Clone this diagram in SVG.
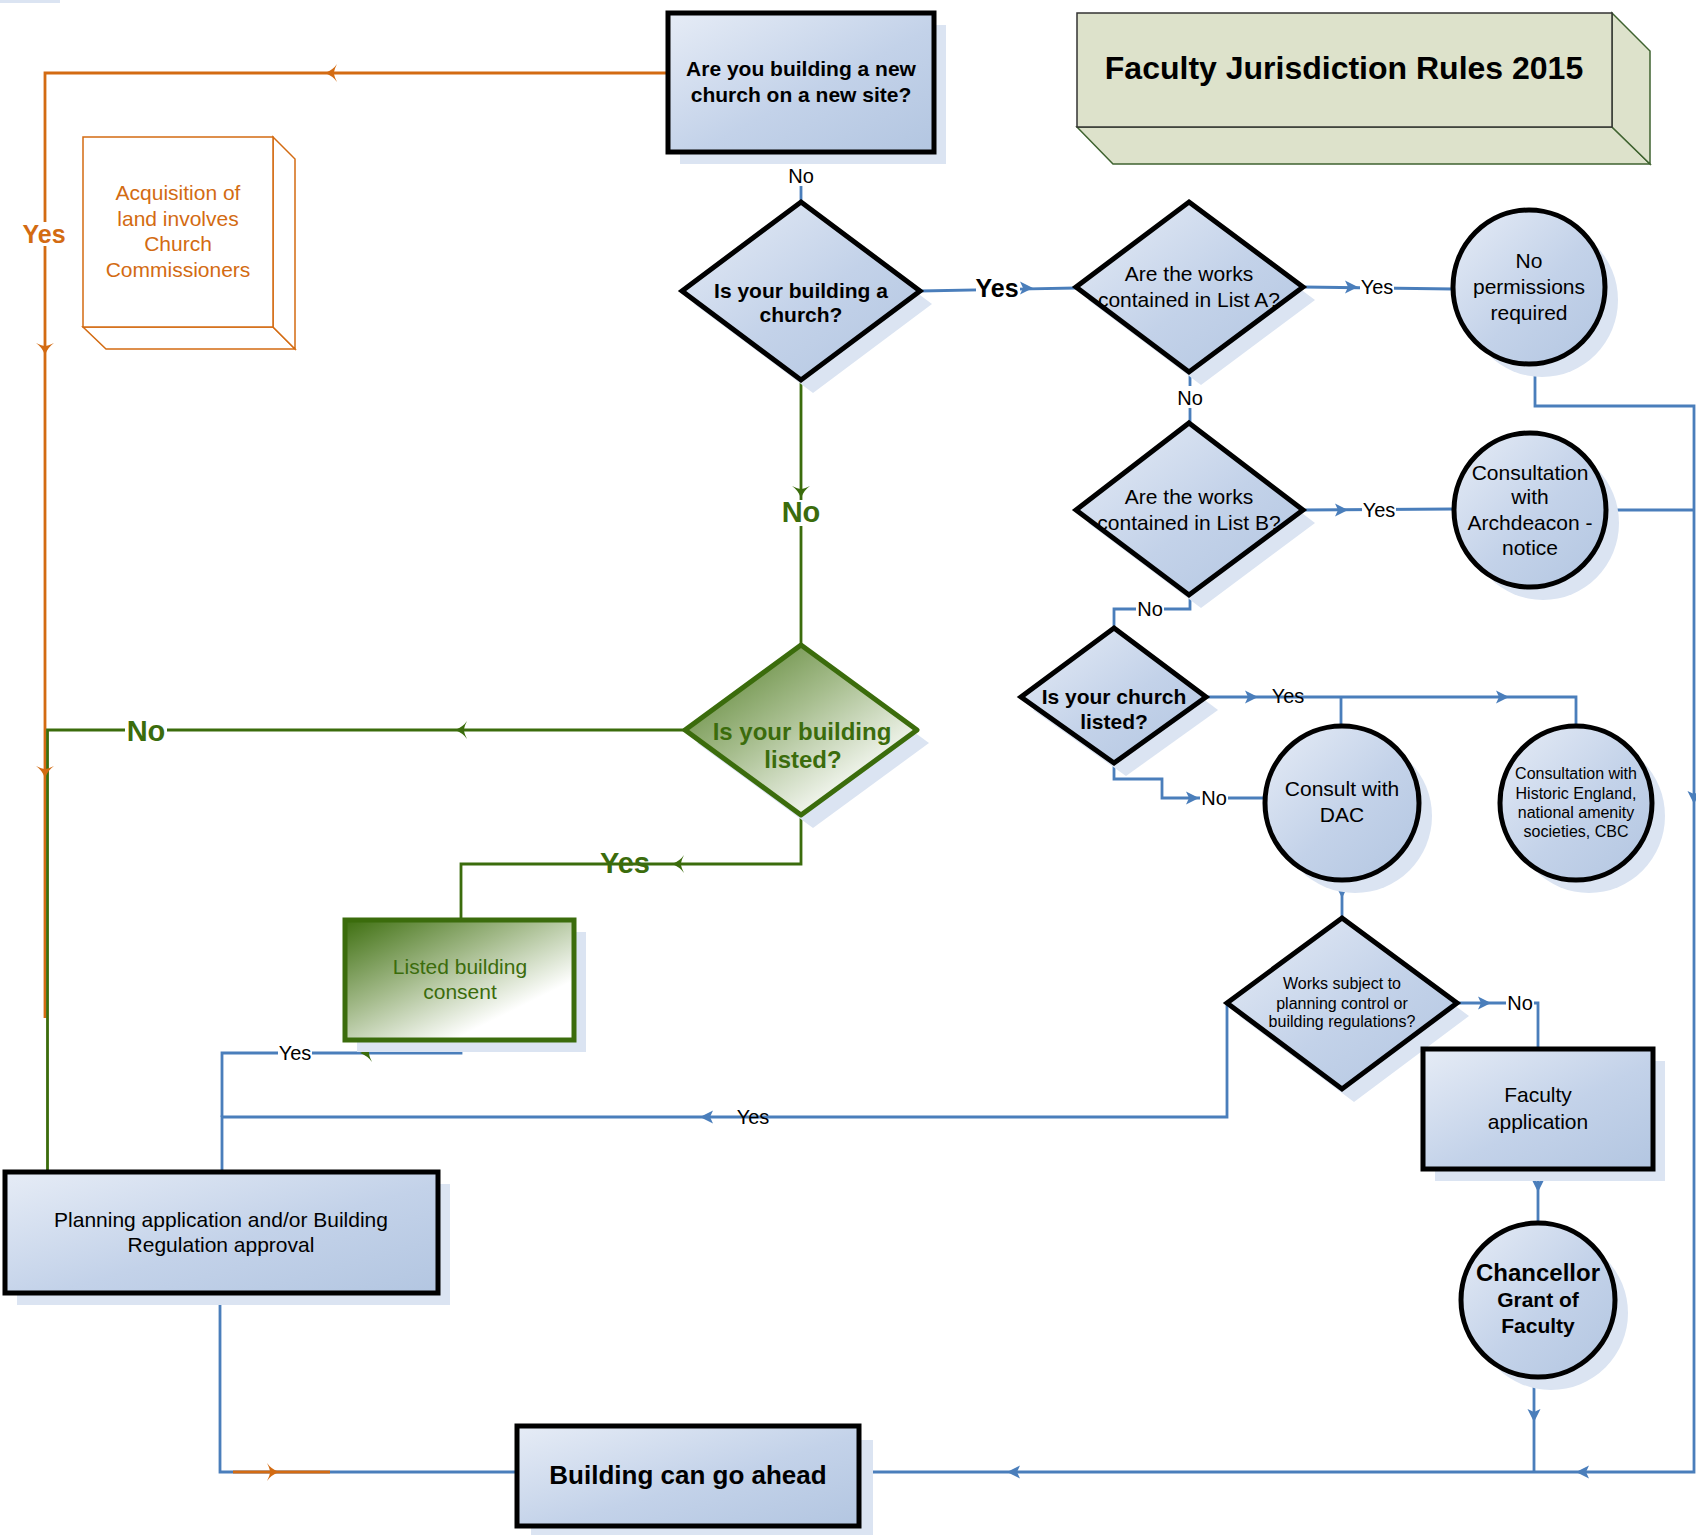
<svg xmlns="http://www.w3.org/2000/svg" xmlns:xlink="http://www.w3.org/1999/xlink" width="1696" height="1535" viewBox="0 0 1696 1535">
<style>
text{font-family:"Liberation Sans",Arial,sans-serif;text-anchor:middle}
.t21{font-size:21px;fill:#000}
.t21b{font-size:21px;font-weight:bold;fill:#000}
.t16{font-size:16px;fill:#000}
.lbl{font-size:20px;fill:#000}
.node{stroke:#000;stroke-width:5;fill:url(#blue)}
.shadow{fill:#dbe4f2}
.cb{fill:none;stroke:#4a7ebb;stroke-width:2.8}
.co{fill:none;stroke:#d36b12;stroke-width:2.8}
.cg{fill:none;stroke:#3b6c0c;stroke-width:2.8}
.bg{fill:#fff}
.ab{fill:#4a7ebb}
.ao{fill:#d36b12}
.ag{fill:#3b6c0c}
.gtxt{fill:#3b6c0c}
.org{fill:#d36b12}
</style>
<defs>
<linearGradient id="blue" x1="0" y1="0" x2="1" y2="1">
<stop offset="0" stop-color="#e6ecf6"/>
<stop offset="0.55" stop-color="#c3d2e9"/>
<stop offset="1" stop-color="#b3c6e1"/>
</linearGradient>
<linearGradient id="gdia" x1="0.1" y1="0.1" x2="0.8" y2="0.85">
<stop offset="0" stop-color="#62893a"/>
<stop offset="0.45" stop-color="#a6bd8d"/>
<stop offset="1" stop-color="#ffffff"/>
</linearGradient>
<linearGradient id="gbox" x1="0" y1="0" x2="0.85" y2="0.9">
<stop offset="0" stop-color="#3e6f10"/>
<stop offset="0.45" stop-color="#a3ba8a"/>
<stop offset="0.85" stop-color="#ffffff"/>
</linearGradient>
<path id="ah" d="M0,0 L-13,-6.5 L-10,0 L-13,6.5 Z"/>
<path id="ah2" d="M0,0 Q-8,-3 -12,-9 Q-9,-3 -9,0 Q-9,3 -12,9 Q-8,3 0,0 Z"/>
</defs>
<rect x="0" y="0" width="60" height="3" fill="#dbe4f2"/>

<!-- connectors -->
<g id="connectors">
<polyline class="co" points="668,73 45,73 45,1018"/>
<polyline class="cg" points="801,380 801,645"/>
<polyline class="cg" points="685,730 47.5,730 47.5,1172"/>
<polyline class="cg" points="801,815 801,864 461,864 461,920"/>
<line class="cb" x1="801" y1="151" x2="801" y2="202"/>
<polyline class="cb" points="920,291 1076,288"/>
<line class="cb" x1="1303" y1="287" x2="1453" y2="289"/>
<polyline class="cb" points="1535,363 1535,406 1694,406 1694,1472 859,1472"/>
<line class="cb" x1="1190" y1="372" x2="1190" y2="423"/>
<line class="cb" x1="1303" y1="510" x2="1454" y2="509"/>
<line class="cb" x1="1607" y1="510" x2="1694" y2="510"/>
<polyline class="cb" points="1190,595 1190,609 1114,609 1114,628"/>
<polyline class="cb" points="1206,697 1576,697 1576,726"/>
<line class="cb" x1="1341" y1="697" x2="1341" y2="726"/>
<polyline class="cb" points="1114,763 1114,779 1162,779 1162,798 1267,798"/>
<line class="cb" x1="1342" y1="880" x2="1342" y2="918"/>
<polyline class="cb" points="1457,1003 1538,1003 1538,1049"/>
<line class="cb" x1="1538" y1="1169" x2="1538" y2="1223"/>
<line class="cb" x1="1534" y1="1376" x2="1534" y2="1472"/>
<polyline class="cb" points="1227,1003 1227,1117 222,1117 222,1172"/>
<polyline class="cb" points="461,1040 461,1053 222,1053 222,1117"/>
<polyline class="cb" points="220,1293 220,1472 517,1472"/>
<line class="co" x1="233" y1="1472" x2="330" y2="1472"/>

<use xlink:href="#ah2" class="ao" transform="translate(325,73) rotate(180)"/>
<use xlink:href="#ah2" class="ao" transform="translate(45,355) rotate(90)"/>
<use xlink:href="#ah2" class="ao" transform="translate(45,778) rotate(90)"/>
<use xlink:href="#ah2" class="ao" transform="translate(279,1472)"/>
<use xlink:href="#ah2" class="ag" transform="translate(801,498) rotate(90)"/>
<use xlink:href="#ah2" class="ag" transform="translate(455,730) rotate(180)"/>
<use xlink:href="#ah2" class="ag" transform="translate(672,864) rotate(180)"/>
<use xlink:href="#ah2" class="ag" transform="translate(360,1053) rotate(180)"/>
<use xlink:href="#ah" class="ab" transform="translate(1033,288)"/>
<use xlink:href="#ah" class="ab" transform="translate(1358,287)"/>
<use xlink:href="#ah" class="ab" transform="translate(1694,804) rotate(90)"/>
<use xlink:href="#ah" class="ab" transform="translate(1576,1472) rotate(180)"/>
<use xlink:href="#ah" class="ab" transform="translate(1007,1472) rotate(180)"/>
<use xlink:href="#ah" class="ab" transform="translate(1348,510)"/>
<use xlink:href="#ah" class="ab" transform="translate(1258,697)"/>
<use xlink:href="#ah" class="ab" transform="translate(1509,697)"/>
<use xlink:href="#ah" class="ab" transform="translate(1199,798)"/>
<use xlink:href="#ah" class="ab" transform="translate(1342,898) rotate(90)"/>
<use xlink:href="#ah" class="ab" transform="translate(1491,1003)"/>
<use xlink:href="#ah" class="ab" transform="translate(1538,1192) rotate(90)"/>
<use xlink:href="#ah" class="ab" transform="translate(1534,1422) rotate(90)"/>
<use xlink:href="#ah" class="ab" transform="translate(700,1117) rotate(180)"/>

<rect class="bg" x="786" y="164" width="30" height="22"/>
<text class="lbl" x="801" y="183">No</text>
<rect class="bg" x="976" y="276" width="44" height="24"/>
<text x="997" y="297" style="font-size:25px;font-weight:bold">Yes</text>
<rect class="bg" x="1360" y="277" width="34" height="20"/>
<text class="lbl" x="1377" y="294">Yes</text>
<rect class="bg" x="1175" y="386" width="30" height="22"/>
<text class="lbl" x="1190" y="405">No</text>
<rect class="bg" x="1362" y="500" width="34" height="20"/>
<text class="lbl" x="1379" y="517">Yes</text>
<rect class="bg" x="1136" y="599" width="28" height="20"/>
<text class="lbl" x="1150" y="616">No</text>
<text class="lbl" x="1288" y="703">Yes</text>
<rect class="bg" x="1200" y="788" width="28" height="20"/>
<text class="lbl" x="1214" y="805">No</text>
<rect class="bg" x="1506" y="993" width="28" height="20"/>
<text class="lbl" x="1520" y="1010">No</text>
<text class="lbl" x="753" y="1124">Yes</text>
<rect class="bg" x="278" y="1043" width="34" height="20"/>
<text class="lbl" x="295" y="1060">Yes</text>
<rect class="bg" x="780" y="500" width="42" height="26"/>
<text class="gtxt" x="801" y="522" style="font-size:29px;font-weight:bold">No</text>
<rect class="bg" x="125" y="717" width="42" height="26"/>
<text class="gtxt" x="146" y="741" style="font-size:29px;font-weight:bold">No</text>
<text class="gtxt" x="625" y="873" style="font-size:29px;font-weight:bold">Yes</text>
<rect class="bg" x="22" y="222" width="44" height="24"/>
<text class="org" x="44" y="243" style="font-size:25px;font-weight:bold">Yes</text>
</g>

<g id="title">
<polygon points="1077,127 1612,127 1650,164 1113,164" fill="#dde2cb" stroke="#3f6330" stroke-width="1.5"/>
<polygon points="1612,13 1650,51 1650,164 1612,127" fill="#dde2cb" stroke="#3f6330" stroke-width="1.5"/>
<rect x="1077" y="13" width="535" height="114" fill="#dde2cb" stroke="#333" stroke-width="1.5"/>
<text x="1344" y="79" style="font-size:32px;font-weight:bold">Faculty Jurisdiction Rules 2015</text>
</g>

<g id="acquisition">
<polygon points="83,327 273,327 295,349 106,349" fill="#fff" stroke="#d36b12" stroke-width="1.5"/>
<polygon points="273,137 295,159 295,349 273,327" fill="#fff" stroke="#d36b12" stroke-width="1.5"/>
<rect x="83" y="137" width="190" height="190" fill="#fff" stroke="#d36b12" stroke-width="1.5"/>
<text class="org" style="font-size:21px" x="178" y="200">Acquisition of</text>
<text class="org" style="font-size:21px" x="178" y="226">land involves</text>
<text class="org" style="font-size:21px" x="178" y="251">Church</text>
<text class="org" style="font-size:21px" x="178" y="277">Commissioners</text>
</g>

<g id="new-site">
<rect class="shadow" x="680" y="25" width="266" height="139"/>
<rect class="node" x="668" y="13" width="266" height="139"/>
<text class="t21b" x="801" y="76">Are you building a new</text>
<text class="t21b" x="801" y="102">church on a new site?</text>
</g>

<g id="is-church">
<polygon class="shadow" points="813,215 932,304 813,393 694,304"/>
<polygon class="node" points="801,202 920,291 801,380 682,291"/>
<text class="t21b" x="801" y="298">Is your building a</text>
<text class="t21b" x="801" y="322">church?</text>
</g>

<g id="list-a">
<polygon class="shadow" points="1201,215 1315,300 1201,385 1088,300"/>
<polygon class="node" points="1189,202 1303,287 1189,372 1076,287"/>
<text class="t21" x="1189" y="281">Are the works</text>
<text class="t21" x="1189" y="307">contained in List A?</text>
</g>

<g id="no-permissions">
<ellipse class="shadow" cx="1542" cy="300" rx="76" ry="77"/>
<ellipse class="node" cx="1529" cy="287" rx="76" ry="77"/>
<text class="t21" x="1529" y="268">No</text>
<text class="t21" x="1529" y="294">permissions</text>
<text class="t21" x="1529" y="320">required</text>
</g>

<g id="list-b">
<polygon class="shadow" points="1201,436 1315,523 1201,608 1088,523"/>
<polygon class="node" points="1189,423 1303,510 1189,595 1076,510"/>
<text class="t21" x="1189" y="504">Are the works</text>
<text class="t21" x="1189" y="530">contained in List B?</text>
</g>

<g id="archdeacon">
<ellipse class="shadow" cx="1543" cy="523" rx="76" ry="77"/>
<ellipse class="node" cx="1530" cy="510" rx="76" ry="77"/>
<text class="t21" x="1530" y="480">Consultation</text>
<text class="t21" x="1530" y="504">with</text>
<text class="t21" x="1530" y="530">Archdeacon -</text>
<text class="t21" x="1530" y="555">notice</text>
</g>

<g id="church-listed">
<polygon class="shadow" points="1126,641 1218,710 1126,776 1033,710"/>
<polygon class="node" points="1114,628 1206,697 1114,763 1021,697"/>
<text class="t21b" x="1114" y="704">Is your church</text>
<text class="t21b" x="1114" y="729">listed?</text>
</g>

<g id="dac">
<ellipse class="shadow" cx="1355" cy="816" rx="77" ry="77"/>
<ellipse class="node" cx="1342" cy="803" rx="77" ry="77"/>
<text class="t21" x="1342" y="796">Consult with</text>
<text class="t21" x="1342" y="822">DAC</text>
</g>

<g id="historic-england">
<ellipse class="shadow" cx="1589" cy="816" rx="76" ry="77"/>
<ellipse class="node" cx="1576" cy="803" rx="76" ry="77"/>
<text class="t16" x="1576" y="779">Consultation with</text>
<text class="t16" x="1576" y="799">Historic England,</text>
<text class="t16" x="1576" y="818">national amenity</text>
<text class="t16" x="1576" y="837">societies, CBC</text>
</g>

<g id="works-subject">
<polygon class="shadow" points="1354,931 1469,1016 1354,1102 1239,1016"/>
<polygon class="node" points="1342,918 1457,1003 1342,1089 1227,1003"/>
<text class="t16" x="1342" y="989">Works subject to</text>
<text class="t16" x="1342" y="1009">planning control or</text>
<text class="t16" x="1342" y="1027">building regulations?</text>
</g>

<g id="faculty-application">
<rect class="shadow" x="1435" y="1061" width="230" height="120"/>
<rect class="node" x="1423" y="1049" width="230" height="120"/>
<text class="t21" x="1538" y="1102">Faculty</text>
<text class="t21" x="1538" y="1129">application</text>
</g>

<g id="chancellor">
<ellipse class="shadow" cx="1551" cy="1313" rx="77" ry="77"/>
<ellipse class="node" cx="1538" cy="1300" rx="77" ry="77"/>
<text x="1538" y="1281" style="font-size:24px;font-weight:bold">Chancellor</text>
<text class="t21b" x="1538" y="1307">Grant of</text>
<text class="t21b" x="1538" y="1333">Faculty</text>
</g>

<g id="building-listed">
<polygon class="shadow" points="813,658 929,743 813,828 697,743"/>
<polygon points="801,645 917,730 801,815 685,730" fill="url(#gdia)" stroke="#3b6c0c" stroke-width="5" stroke-linejoin="round"/>
<text class="gtxt" x="802" y="740" style="font-size:24px;font-weight:bold">Is your building</text>
<text class="gtxt" x="803" y="768" style="font-size:24px;font-weight:bold">listed?</text>
</g>

<g id="listed-consent">
<rect class="shadow" x="357" y="932" width="229" height="120"/>
<rect x="345" y="920" width="229" height="120" fill="url(#gbox)" stroke="#3b6c0c" stroke-width="5"/>
<text class="gtxt" x="460" y="974" style="font-size:21px">Listed building</text>
<text class="gtxt" x="460" y="999" style="font-size:21px">consent</text>
</g>

<g id="planning">
<rect class="shadow" x="17" y="1184" width="433" height="121"/>
<rect class="node" x="5" y="1172" width="433" height="121"/>
<text class="t21" x="221" y="1227">Planning application and/or Building</text>
<text class="t21" x="221" y="1252">Regulation approval</text>
</g>

<g id="go-ahead">
<rect class="shadow" x="531" y="1440" width="342" height="100"/>
<rect class="node" x="517" y="1426" width="342" height="100"/>
<text x="688" y="1484" style="font-size:26px;font-weight:bold">Building can go ahead</text>
</g>
</svg>
